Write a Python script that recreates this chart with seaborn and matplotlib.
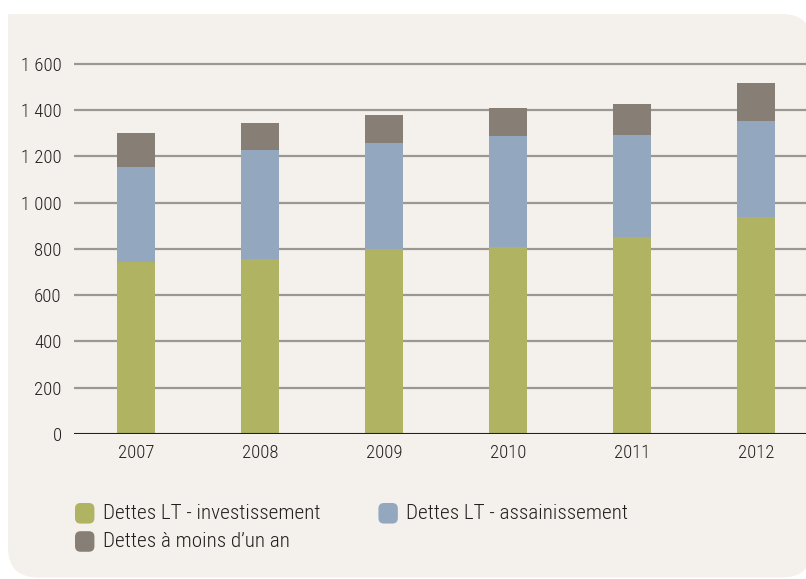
import matplotlib
matplotlib.use("Agg")
import matplotlib.pyplot as plt
from matplotlib import font_manager
from matplotlib.patches import FancyBboxPatch, Patch, Rectangle
from matplotlib.legend_handler import HandlerPatch
from matplotlib.ticker import FuncFormatter
import seaborn as sns
import pandas as pd

# Debt structure (millions), by year
years = ["2007", "2008", "2009", "2010", "2011", "2012"]
invest = [745, 757, 800, 809, 852, 938]
assain = [410, 471, 458, 480, 441, 416]
short_term = [145, 117, 121, 121, 134, 164]
labels = ["Dettes LT - investissement", "Dettes LT - assainissement",
          "Dettes à moins d\u2019un an"]
y_ticks = [0, 200, 400, 600, 800, 1000, 1200, 1400, 1600]

colors = ["#b0b462", "#93a8bf", "#877e76"]
panel_color = "#f4f1ec"
grid_color = "#9b9793"

sns.set_theme(style="white")

# pick a narrow sans if one is installed
installed = {f.name for f in font_manager.fontManager.ttflist}
family = "DejaVu Sans"
for cand in ["Liberation Sans Narrow", "Roboto Condensed", "Open Sans Condensed",
             "Noto Sans Condensed", "DejaVu Sans Condensed", "Roboto", "Lato"]:
    if cand in installed:
        family = cand
        break
narrow = family in ("Liberation Sans Narrow", "Roboto Condensed",
                    "Open Sans Condensed", "Noto Sans Condensed")
plt.rcParams["font.family"] = [family, "DejaVu Sans"]
plt.rcParams["font.weight"] = "light"
if family == "DejaVu Sans Condensed":
    plt.rcParams["font.stretch"] = "condensed"
plt.rcParams["text.color"] = "#231f20"
fs = 13.5 if narrow else 12

df = pd.DataFrame({"year": years, "invest": invest,
                   "assain": assain, "short": short_term})
df["lvl1"] = df["invest"]
df["lvl2"] = df["invest"] + df["assain"]
df["lvl3"] = df["lvl2"] + df["short"]

W, H = 806, 579
fig = plt.figure(figsize=(W / 100, H / 100), dpi=100)
fig.patch.set_facecolor("white")

# background panel: rounded top-right and bottom-left, square top-left
px = fig.dpi_scale_trans
panel = FancyBboxPatch((0.08, 0.015), 8.04, 5.79 - 0.14 - 0.015,
                       boxstyle="round,pad=0,rounding_size=0.3",
                       transform=px, facecolor=panel_color,
                       edgecolor="none", zorder=-5)
corner = Rectangle((0.08, 5.79 - 0.14 - 0.4), 0.4, 0.4, transform=px,
                   facecolor=panel_color, edgecolor="none", zorder=-5)
fig.patches.extend([panel, corner])

ax = fig.add_axes([74 / W, 1 - 434 / H, (W - 74) / W, (434 - 52.4) / H])
ax.set_facecolor("none")

# stacked bars drawn back to front from the cumulative totals
for col, c in zip(["lvl3", "lvl2", "lvl1"], colors[::-1]):
    sns.barplot(data=df, x="year", y=col, color=c, width=0.31,
                saturation=1, ax=ax, zorder=3, edgecolor="none")

ax.set_xlim(-0.5, 5.403)
ax.set_ylim(0, 1650)
ax.set_yticks(y_ticks)
ax.yaxis.set_major_formatter(
    FuncFormatter(lambda v, p: f"{int(v):,}".replace(",", " ")))
for v in y_ticks[1:]:
    ax.axhline(v, color=grid_color, lw=1.6, zorder=1)
ax.axhline(0, color="#231f20", lw=1.5, zorder=4)
for s in ax.spines.values():
    s.set_visible(False)
ax.set_xlabel("")
ax.set_ylabel("")
ax.tick_params(axis="y", length=0, pad=9, labelsize=fs, labelcolor="#231f20")
ax.tick_params(axis="x", length=0, pad=7, labelsize=fs, labelcolor="#231f20")


class RoundHandler(HandlerPatch):
    def create_artists(self, legend, orig_handle, xdescent, ydescent,
                       width, height, fontsize, trans):
        p = FancyBboxPatch((-xdescent, -ydescent - 2), width, height + 2,
                           boxstyle="round,pad=0,rounding_size=4",
                           facecolor=orig_handle.get_facecolor(),
                           edgecolor="none", transform=trans)
        return [p]


handles = [Patch(facecolor=c) for c in colors]
order = [0, 2, 1]
leg = fig.legend([handles[i] for i in order], [labels[i] for i in order],
                 loc="upper left", bbox_to_anchor=(75 / W, 1 - 503 / H),
                 ncol=2, frameon=False, fontsize=fs + 1.7, borderpad=0,
                 borderaxespad=0, handlelength=0.92, handleheight=0.92,
                 handletextpad=0.4, labelspacing=0.38, columnspacing=2.75,
                 handler_map={Patch: RoundHandler()})

fig.savefig("out.png", dpi=100, facecolor="white")
